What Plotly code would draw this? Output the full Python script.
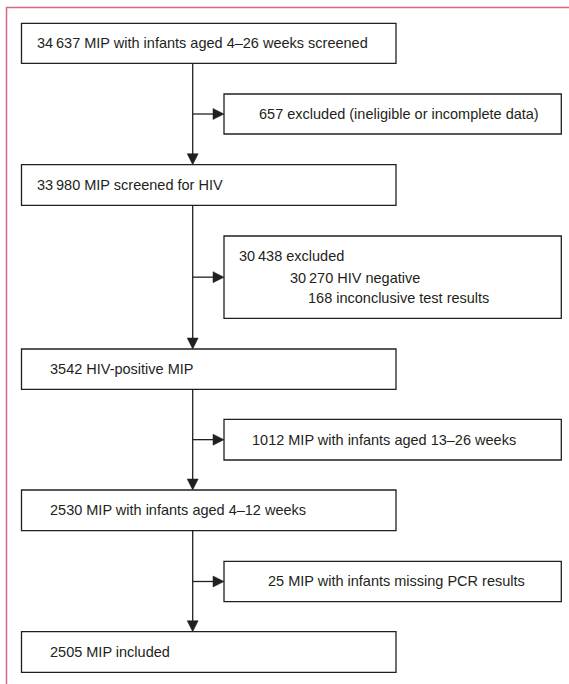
import plotly.graph_objects as go

# ---- data: flow chart content ----
main_labels = [
    "34\u2009637 MIP with infants aged 4–26 weeks screened",
    "33\u2009980 MIP screened for HIV",
    "3542 HIV-positive MIP",
    "2530 MIP with infants aged 4–12 weeks",
    "2505 MIP included",
]
excl_labels = [
    ["657 excluded (ineligible or incomplete data)"],
    ["30\u2009438 excluded", "30\u2009270 HIV negative", "168 inconclusive test results"],
    ["1012 MIP with infants aged 13–26 weeks"],
    ["25 MIP with infants missing PCR results"],
]

# ---- layout geometry (pixels) ----
W, H = 569, 684
main_x0, main_x1 = 21.5, 396
main_y = [(23.3, 63.3), (164.7, 205.3), (349, 389.3), (490, 530.7), (631.7, 672.3)]
main_text_x = [35, 35, 48, 48, 48]
ex_x0, ex_x1 = 224, 561.3
ex_y = [(94, 134), (236, 318.3), (419.3, 460), (561.3, 601.7)]
ex_text = [
    [(257, 114)],
    [(237, 256), (288, 277.5), (306, 298)],
    [(250, 439.5)],
    [(266, 581)],
]
spine_x = 192.7
frame_color = "#d9677f"
ink = "#231f20"
font_family = "Liberation Sans, Arial, sans-serif"
font_size = 14.5

shapes = []
annotations = []

# frame
shapes.append(dict(type="path", path=f"M 6.5,{H} L 6.5,7.5 L {W},7.5",
                   line=dict(color=frame_color, width=1.5), xref="x", yref="y"))

def box(x0, y0, x1, y1):
    shapes.append(dict(type="rect", x0=x0, y0=y0, x1=x1, y1=y1, xref="x", yref="y",
                       line=dict(color=ink, width=1.3), fillcolor="white", layer="above"))

def text(x, y, s):
    annotations.append(dict(x=x, y=y, xref="x", yref="y", text=s, showarrow=False,
                            xanchor="left", yanchor="middle",
                            font=dict(family=font_family, size=font_size, color=ink)))

for (y0, y1), tx, lab in zip(main_y, main_text_x, main_labels):
    box(main_x0, y0, main_x1, y1)
    text(tx, (y0 + y1) / 2, lab)

for (y0, y1), pos, labs in zip(ex_y, ex_text, excl_labels):
    box(ex_x0, y0, ex_x1, y1)
    for (tx, ty), lab in zip(pos, labs):
        text(tx, ty, lab)

# connectors
for i in range(len(main_y) - 1):
    yb = main_y[i][1]
    yt = main_y[i + 1][0]
    shapes.append(dict(type="line", x0=spine_x, x1=spine_x, y0=yb, y1=yt - 10,
                       xref="x", yref="y", line=dict(color=ink, width=1.3)))
    shapes.append(dict(type="path",
                       path=f"M {spine_x-5.5},{yt-11} L {spine_x+5.5},{yt-11} L {spine_x},{yt} Z",
                       fillcolor=ink, line=dict(color=ink, width=0.5), xref="x", yref="y"))
    ya = (ex_y[i][0] + ex_y[i][1]) / 2
    shapes.append(dict(type="line", x0=spine_x, x1=ex_x0 - 10, y0=ya, y1=ya,
                       xref="x", yref="y", line=dict(color=ink, width=1.3)))
    shapes.append(dict(type="path",
                       path=f"M {ex_x0-11},{ya-5.5} L {ex_x0-11},{ya+5.5} L {ex_x0},{ya} Z",
                       fillcolor=ink, line=dict(color=ink, width=0.5), xref="x", yref="y"))

fig = go.Figure()
fig.update_layout(
    width=W, height=H, autosize=False,
    margin=dict(l=0, r=0, t=0, b=0),
    paper_bgcolor="white", plot_bgcolor="white",
    xaxis=dict(range=[0, W], visible=False, fixedrange=True),
    yaxis=dict(range=[H, 0], visible=False, fixedrange=True),
    shapes=shapes, annotations=annotations, showlegend=False,
)
fig.write_html("out.html", config=dict(displayModeBar=False),
               post_script="document.body.style.margin='0';document.body.style.overflow='hidden';")
